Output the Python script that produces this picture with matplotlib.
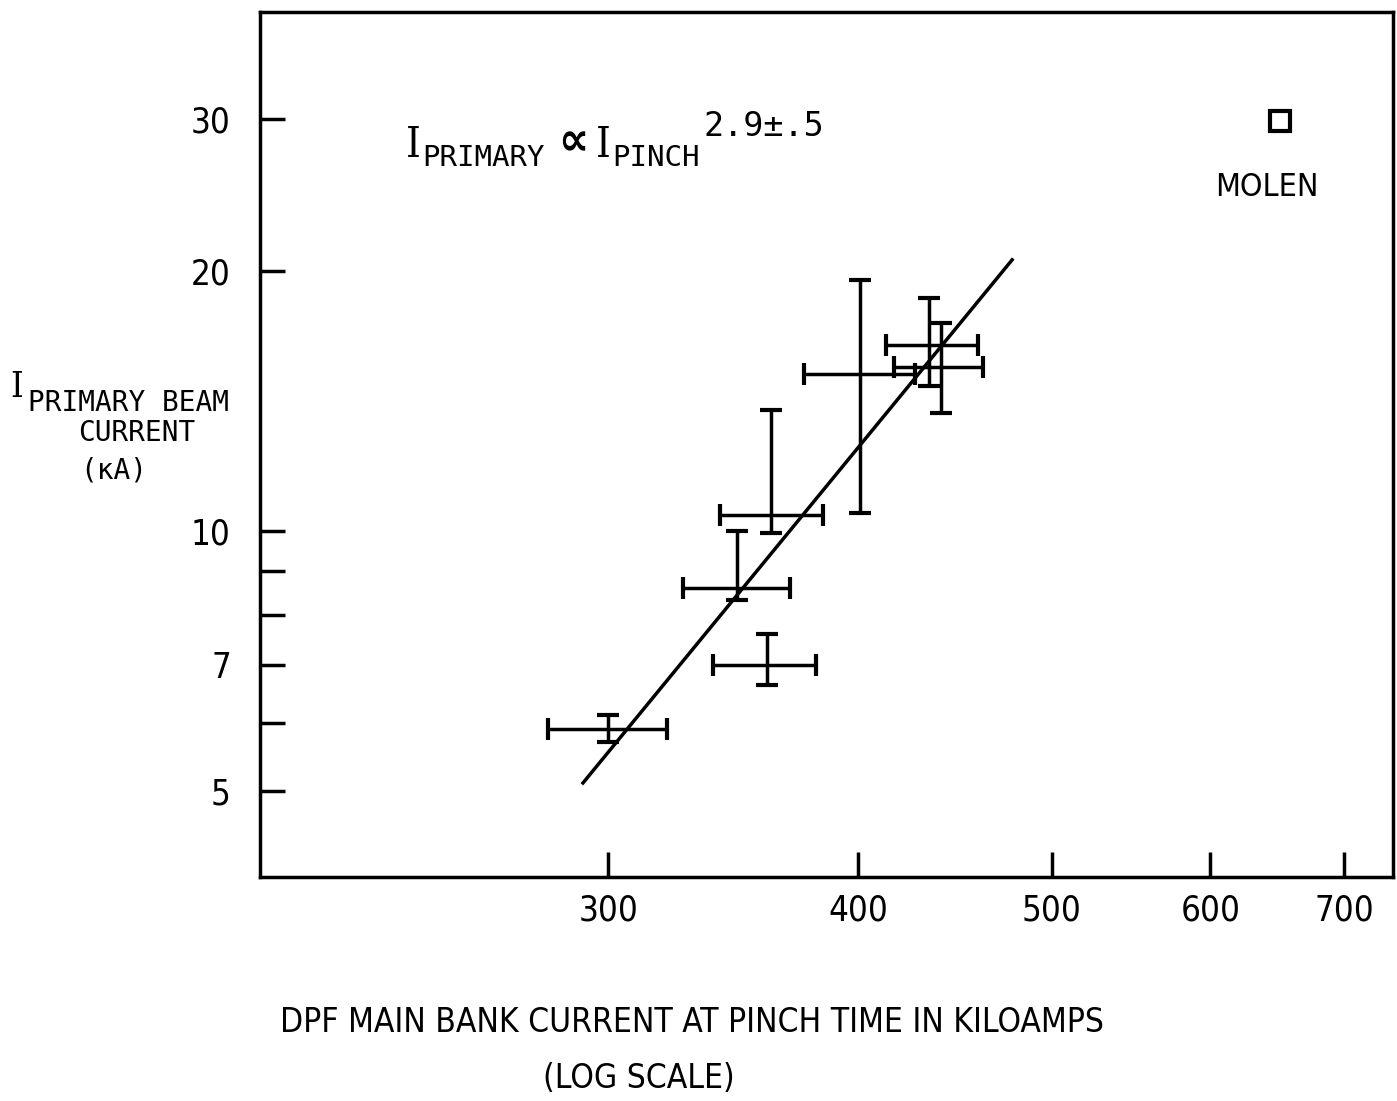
import matplotlib
matplotlib.use('Agg')
import matplotlib.pyplot as plt
from matplotlib.ticker import FixedLocator, NullLocator, NullFormatter, FixedFormatter

plt.rcParams['font.family'] = ['DejaVu Sans']
plt.rcParams['font.stretch'] = 'condensed'

# DPF pinch current (kA) with x error bar ends
pinch_ka = [300, 360, 348, 362, 401, 434, 440]
pinch_lo = [280, 338.5, 327, 341, 376, 413, 417]
pinch_hi = [321, 381, 370, 384, 427, 459, 462]

# primary beam current (kA) with y error bar ends
beam_ka = [5.9, 7.0, 8.6, 10.45, 15.2, 16.4, 15.5]
beam_lo = [5.7, 6.63, 8.32, 9.95, 10.5, 14.7, 13.7]
beam_hi = [6.12, 7.6, 10.0, 13.8, 19.5, 18.6, 17.4]

# fitted power law line ends
fit_x = [291.4, 477.6]
fit_y = [5.11, 20.6]

# Molen point
molen_x = [650]
molen_y = [29.8]

x_ticks = [300, 400, 500, 600, 700]
y_ticks = [5, 6, 7, 8, 9, 10, 20, 30]
y_labels = ['5', '', '7', '', '', '10', '20', '30']

W, H = 1397, 1101
fig = plt.figure(figsize=(W / 100, H / 100), dpi=100)
ax = fig.add_axes([260 / W, 1 - 877 / H, (1393 - 260) / W, (877 - 12) / H])
ax.set_xscale('log')
ax.set_yscale('log')
ax.set_xlim(200.9, 740.5)
ax.set_ylim(3.977, 39.88)

xerr = [[c - l for c, l in zip(pinch_ka, pinch_lo)], [h - c for c, h in zip(pinch_ka, pinch_hi)]]
yerr = [[c - l for c, l in zip(beam_ka, beam_lo)], [h - c for c, h in zip(beam_ka, beam_hi)]]
ax.errorbar(pinch_ka, beam_ka, xerr=xerr, yerr=yerr, fmt='none', ecolor='black',
            elinewidth=2.5, capsize=8, capthick=3)
ax.plot(fit_x, fit_y, color='black', lw=2.5)
ax.plot(molen_x, molen_y, marker='s', ms=14, mfc='white', mec='black', mew=3, ls='none')

ax.xaxis.set_major_locator(FixedLocator(x_ticks))
ax.xaxis.set_major_formatter(FixedFormatter([str(t) for t in x_ticks]))
ax.xaxis.set_minor_locator(NullLocator())
ax.xaxis.set_minor_formatter(NullFormatter())
ax.yaxis.set_major_locator(FixedLocator(y_ticks))
ax.yaxis.set_major_formatter(FixedFormatter(y_labels))
ax.yaxis.set_minor_locator(NullLocator())
ax.yaxis.set_minor_formatter(NullFormatter())
ax.tick_params(direction='in', length=18, width=2.5, labelsize=25)
ax.tick_params(axis='x', pad=12)
ax.tick_params(axis='y', pad=21)
for s in ax.spines.values():
    s.set_linewidth(2.5)


def ftext(x, y, s, **kw):
    fig.text(x / W, 1 - y / H, s, **kw)


mono = 'DejaVu Sans Mono'

# relation annotation
ftext(406, 145, 'I', fontsize=30, va='center', ha='left', family='DejaVu Serif')
ftext(422, 158, 'PRIMARY', fontsize=21, va='center', ha='left', family=mono)
ftext(558, 143, '\u221d', fontsize=34, va='center', ha='left', fontweight='bold')
ftext(596, 145, 'I', fontsize=30, va='center', ha='left', family='DejaVu Serif')
ftext(612, 158, 'PINCH', fontsize=21, va='center', ha='left', family=mono)
ftext(703, 127, '2.9\u00b1.5', fontsize=24, va='center', ha='left', family=mono)

ftext(1267, 187, 'MOLEN', fontsize=23, va='center', ha='center')

# y label
ftext(10, 387, 'I', fontsize=26, va='center', ha='left', family='DejaVu Serif')
ftext(28, 403, 'PRIMARY BEAM', fontsize=20, va='center', ha='left', family=mono)
ftext(78, 433, 'CURRENT', fontsize=20, va='center', ha='left', family=mono)
ftext(80, 471, '(\u03baA)', fontsize=20, va='center', ha='left', family=mono)

# x label
ftext(692, 1023, 'DPF MAIN BANK CURRENT AT PINCH TIME IN KILOAMPS', fontsize=24, va='center', ha='center')
ftext(639, 1078, '(LOG SCALE)', fontsize=24, va='center', ha='center')

fig.savefig('out.png', dpi=100)
